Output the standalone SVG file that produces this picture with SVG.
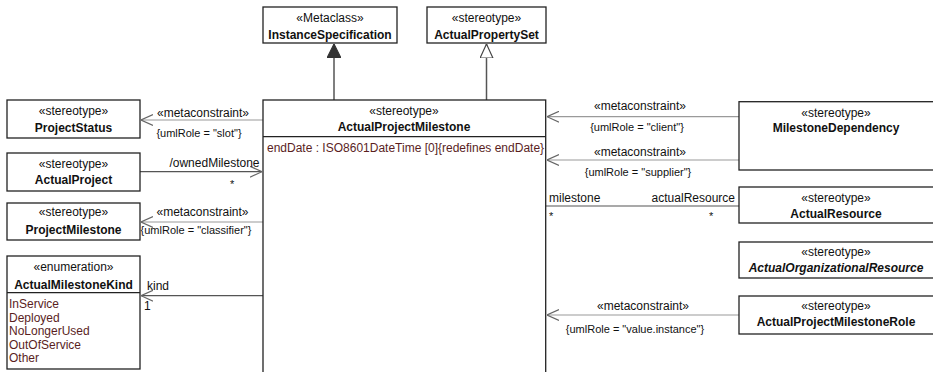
<svg xmlns="http://www.w3.org/2000/svg" width="933" height="372" viewBox="0 0 933 372">
<style>
text{font-family:"Liberation Sans",Arial,sans-serif;font-size:12px;fill:#111}
.c{text-anchor:middle}
.b{font-weight:bold}
.i{font-style:italic}
.s{font-size:11px}
.r{text-anchor:end}
.lit{fill:#5a1e1e}
.box{fill:#fff;stroke:#222;stroke-width:1.3}
.div{stroke:#222;stroke-width:1.3}
.meta{stroke:#9a9a9a;stroke-width:1.2;fill:none}
.assoc{stroke:#555;stroke-width:1.2;fill:none}
.gen{stroke:#555;stroke-width:1.5;fill:none}
</style>
<defs>
<marker id="open" markerUnits="userSpaceOnUse" markerWidth="12" markerHeight="12" viewBox="0 0 10 10" refX="10" refY="5" orient="auto">
<path d="M0,0.5 L10,5 L0,9.5" fill="none" stroke="#666" stroke-width="1"/>
</marker>
<marker id="filled" markerUnits="userSpaceOnUse" markerWidth="14" markerHeight="14" viewBox="0 0 12 12" refX="12" refY="6" orient="auto">
<path d="M0,0 L12,6 L0,12 Z" fill="#333" stroke="#333" stroke-width="1"/>
</marker>
<marker id="hollow" markerUnits="userSpaceOnUse" markerWidth="14" markerHeight="14" viewBox="0 0 12 12" refX="12" refY="6" orient="auto">
<path d="M0,0.5 L12,6 L0,11.5 Z" fill="#fff" stroke="#444" stroke-width="1"/>
</marker>
</defs>

<g id="connectors">
<line class="gen" x1="334" y1="100" x2="334" y2="44" marker-end="url(#filled)"/>
<line class="gen" x1="486.5" y1="100" x2="486.5" y2="44" marker-end="url(#hollow)"/>
<line class="meta" x1="263" y1="120" x2="141" y2="120" marker-end="url(#open)"/>
<text class="c" x="203" y="117">«metaconstraint»</text>
<text class="c s" x="199" y="136.5">{umlRole = "slot"}</text>
<line class="assoc" x1="140" y1="171.7" x2="262" y2="171.7" marker-end="url(#open)"/>
<text class="r" x="259.5" y="166.5">/ownedMilestone</text>
<text class="s" x="230" y="188">*</text>
<line class="meta" x1="263" y1="222" x2="141" y2="222" marker-end="url(#open)"/>
<text class="c" x="202.5" y="216">«metaconstraint»</text>
<text class="c s" x="196" y="233.5">{umlRole = "classifier"}</text>
<line class="assoc" x1="263" y1="295.7" x2="141" y2="295.7" marker-end="url(#open)"/>
<text x="147" y="290">kind</text>
<text x="144" y="310">1</text>
<line class="meta" x1="739" y1="116.7" x2="547" y2="116.7" marker-end="url(#open)"/>
<text class="c" x="640" y="110">«metaconstraint»</text>
<text class="c s" x="637" y="131">{umlRole = "client"}</text>
<line class="meta" x1="739" y1="160" x2="547" y2="160" marker-end="url(#open)"/>
<text class="c" x="640" y="156">«metaconstraint»</text>
<text class="c s" x="638" y="175.5">{umlRole = "supplier"}</text>
<line class="assoc" x1="546" y1="206" x2="739" y2="206"/>
<text x="549" y="201.5">milestone</text>
<text class="r" x="735" y="201.5">actualResource</text>
<text class="s" x="549" y="220">*</text>
<text class="s" x="709" y="220">*</text>
<line class="meta" x1="739" y1="315" x2="547" y2="315" marker-end="url(#open)"/>
<text class="c" x="643" y="310">«metaconstraint»</text>
<text class="c s" x="635" y="333">{umlRole = "value.instance"}</text>
</g>

<g id="InstanceSpecification">
<rect class="box" x="263" y="7" width="134" height="36"/>
<text class="c" x="330" y="22">«Metaclass»</text>
<text class="c b" x="330" y="38.5">InstanceSpecification</text>
</g>
<g id="ActualPropertySet">
<rect class="box" x="427" y="7" width="119" height="36"/>
<text class="c" x="486.5" y="22">«stereotype»</text>
<text class="c b" x="486.5" y="38.5">ActualPropertySet</text>
</g>
<g id="ActualProjectMilestone">
<rect class="box" x="263" y="100" width="282.7" height="290"/>
<line class="div" x1="263" y1="136.7" x2="545.7" y2="136.7"/>
<text class="c" x="404" y="115">«stereotype»</text>
<text class="c b" x="404" y="131">ActualProjectMilestone</text>
<text class="lit" x="267" y="151.5">endDate : ISO8601DateTime [0]{redefines endDate}</text>
</g>
<g id="ProjectStatus">
<rect class="box" x="7" y="100" width="133" height="38"/>
<text class="c" x="73.5" y="115">«stereotype»</text>
<text class="c b" x="73.5" y="131.5">ProjectStatus</text>
</g>
<g id="ActualProject">
<rect class="box" x="7" y="153" width="133" height="38"/>
<text class="c" x="73.5" y="167.5">«stereotype»</text>
<text class="c b" x="73.5" y="184">ActualProject</text>
</g>
<g id="ProjectMilestone">
<rect class="box" x="7" y="203" width="133" height="37"/>
<text class="c" x="73.5" y="216">«stereotype»</text>
<text class="c b" x="73.5" y="233.5">ProjectMilestone</text>
</g>
<g id="ActualMilestoneKind">
<rect class="box" x="7" y="256" width="133" height="113"/>
<line class="div" x1="7" y1="292.7" x2="140" y2="292.7"/>
<text class="c" x="73.5" y="271">«enumeration»</text>
<text class="c b" x="73.5" y="288.5">ActualMilestoneKind</text>
<text class="lit" x="9" y="307.5">InService</text>
<text class="lit" x="9" y="321.5">Deployed</text>
<text class="lit" x="9" y="335">NoLongerUsed</text>
<text class="lit" x="9" y="348.5">OutOfService</text>
<text class="lit" x="9" y="362">Other</text>
</g>
<g id="MilestoneDependency">
<rect class="box" x="739" y="101.7" width="200" height="68.3"/>
<text class="c" x="836" y="117">«stereotype»</text>
<text class="c b" x="836" y="131.5">MilestoneDependency</text>
</g>
<g id="ActualResource">
<rect class="box" x="739" y="187" width="200" height="36"/>
<text class="c" x="836" y="201.5">«stereotype»</text>
<text class="c b" x="836" y="218">ActualResource</text>
</g>
<g id="ActualOrganizationalResource">
<rect class="box" x="739" y="242" width="200" height="36"/>
<text class="c" x="836" y="256">«stereotype»</text>
<text class="c b i" x="836" y="272">ActualOrganizationalResource</text>
</g>
<g id="ActualProjectMilestoneRole">
<rect class="box" x="739" y="296" width="200" height="38"/>
<text class="c" x="836" y="310">«stereotype»</text>
<text class="c b" x="836" y="326">ActualProjectMilestoneRole</text>
</g>
</svg>
